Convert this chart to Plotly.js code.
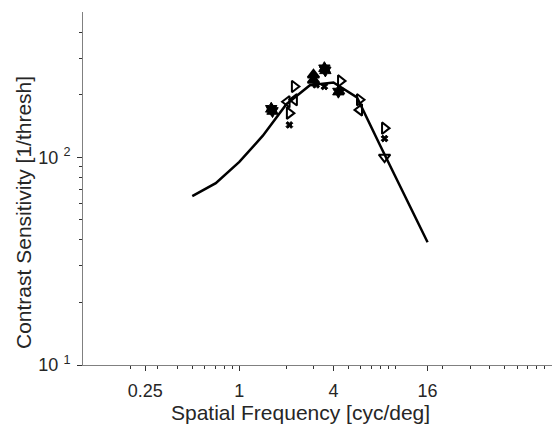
<!DOCTYPE html>
<html>
<head>
<meta charset="utf-8">
<script src="https://cdn.plot.ly/plotly-3.0.1.min.js"></script>
<style>html,body{margin:0;padding:0;background:#fff;}#chart{width:553px;height:425px;}</style>
</head>
<body>
<div id="chart"></div>
<script>
// Model curve
const lineFreq = [0.5, 0.707, 1, 1.414, 2, 2.828, 4, 5.657, 8, 11.31, 16];
const lineCS   = [65, 75, 95, 127, 180, 222, 229, 194, 113, 66, 39];

// Data points by marker type
const triRightFreq = [2.25, 2.09, 4.44, 5.87, 8.49];
const triRightCS   = [219, 163, 233, 189, 138];
const triLeftFreq  = [2.25, 2.02, 5.87];
const triLeftCS    = [189, 185, 169];
const triUpFreq    = [2.98, 2.98];
const triUpCS      = [249, 235];
const triDownFreq  = [8.49];
const triDownCS    = [100];
const crossFreq    = [2.09, 3.5, 3.1, 4.5, 8.49];
const crossCS      = [143, 219, 223, 207, 123];
const starFreq     = [1.6, 1.63, 3.5, 3.55, 4.3];
const starCS       = [171, 167, 268, 262, 207];

// Axis ticks and titles
const xTickVals = [0.25, 1, 4, 16];
const xTickText = ['0.25', '1', '4', '16'];
const xMinorVals = [0.2, 0.3, 0.4, 0.5, 0.6, 0.7, 0.8, 0.9, 2, 3, 5, 6, 7, 8, 9, 10, 20, 30, 40, 50, 60, 70, 80, 90];
const yTickVals = [10, 100];
const yTickText = ['10\u00a0<sup>1</sup>', '10\u00a0<sup>2</sup>'];
const yMinorVals = [20, 30, 40, 50, 60, 70, 80, 90, 200, 300, 400];
const xTitle = 'Spatial Frequency [cyc/deg]';
const yTitle = 'Contrast Sensitivity [1/thresh]';

function pts(x, y, symbol, size, lw) {
  return {
    x: x, y: y, type: 'scatter', mode: 'markers', showlegend: false,
    marker: {symbol: symbol, size: size, color: '#000', line: {color: '#000', width: lw}}
  };
}

const traces = [
  {x: lineFreq, y: lineCS, type: 'scatter', mode: 'lines', showlegend: false,
   line: {color: '#000', width: 2.5}},
  pts(triRightFreq, triRightCS, 'triangle-right-open', 10, 2),
  pts(triLeftFreq, triLeftCS, 'triangle-left-open', 10, 2),
  pts(triUpFreq, triUpCS, 'triangle-up', 10, 2),
  pts(triDownFreq, triDownCS, 'triangle-down-open', 10, 2),
  pts(crossFreq, crossCS, 'x', 6, 1),
  pts(starFreq, starCS, 'hexagram', 10, 1)
];

const fam = 'Liberation Sans, Arial, sans-serif';
const axFont = {family: fam, size: 18, color: '#262626'};
const titleFont = {family: fam, size: 21, color: '#262626'};

const layout = {
  width: 553, height: 425,
  margin: {l: 83, r: 1, t: 12, b: 60},
  paper_bgcolor: '#fff', plot_bgcolor: '#fff',
  showlegend: false,
  xaxis: {
    type: 'log', range: [-1, 2],
    tickmode: 'array', tickvals: xTickVals, ticktext: xTickText,
    ticks: 'outside', ticklen: 5, tickwidth: 1, tickcolor: '#333',
    minor: {tickmode: 'array', tickvals: xMinorVals, ticks: 'outside', ticklen: 3, tickcolor: '#333', showgrid: false},
    showline: true, linecolor: '#808080', linewidth: 1,
    showgrid: false, zeroline: false,
    tickfont: axFont, ticklabelstandoff: 4
  },
  yaxis: {
    type: 'log', range: [1, Math.log10(500)],
    tickmode: 'array', tickvals: yTickVals, ticktext: yTickText,
    ticks: 'outside', ticklen: 5, tickwidth: 1, tickcolor: '#333',
    minor: {tickmode: 'array', tickvals: yMinorVals, ticks: 'outside', ticklen: 3, tickcolor: '#333', showgrid: false},
    showline: true, linecolor: '#808080', linewidth: 1,
    showgrid: false, zeroline: false,
    tickfont: axFont, ticklabelstandoff: 3
  },
  annotations: [
    {text: xTitle, xref: 'paper', yref: 'paper', x: (300 - 83) / 469, y: (365 - 412) / 353,
     xanchor: 'center', yanchor: 'middle', showarrow: false, font: titleFont},
    {text: yTitle, xref: 'paper', yref: 'paper', x: (24 - 83) / 469, y: (365 - 213) / 353,
     xanchor: 'center', yanchor: 'middle', textangle: -90, showarrow: false, font: titleFont}
  ]
};

Plotly.newPlot('chart', traces, layout, {displayModeBar: false, staticPlot: true});
</script>
</body>
</html>
